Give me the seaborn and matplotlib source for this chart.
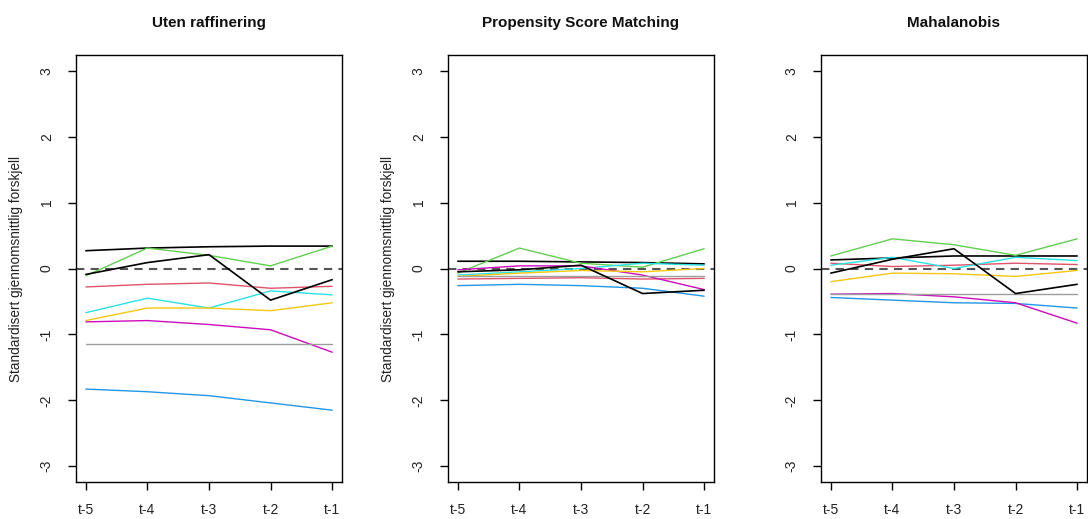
import numpy as np
import pandas as pd
import matplotlib
matplotlib.use("Agg")
import matplotlib.pyplot as plt
import seaborn as sns

periods = ["t-5", "t-4", "t-3", "t-2", "t-1"]
series = ["V1", "V2", "V3", "V4", "V5", "V6", "V7", "V8", "V9"]
colors = ["#000000", "#DF536B", "#61D04F", "#2297E6", "#28E2E5",
          "#CD0BBC", "#F5C710", "#9E9E9E", "#000000"]
titles = ["Uten raffinering", "Propensity Score Matching", "Mahalanobis"]

# Panel 1: Uten raffinering
raw_V1 = [0.27, 0.31, 0.33, 0.34, 0.34]
raw_V2 = [-0.28, -0.24, -0.22, -0.30, -0.27]
raw_V3 = [-0.11, 0.31, 0.20, 0.04, 0.34]
raw_V4 = [-1.83, -1.87, -1.93, -2.04, -2.15]
raw_V5 = [-0.67, -0.45, -0.60, -0.34, -0.40]
raw_V6 = [-0.81, -0.79, -0.85, -0.93, -1.27]
raw_V7 = [-0.79, -0.60, -0.60, -0.64, -0.52]
raw_V8 = [-1.14, -1.14, -1.14, -1.14, -1.14]
raw_V9 = [-0.09, 0.09, 0.21, -0.48, -0.17]

# Panel 2: Propensity Score Matching
psm_V1 = [0.11, 0.11, 0.10, 0.09, 0.07]
psm_V2 = [-0.16, -0.15, -0.14, -0.16, -0.15]
psm_V3 = [-0.07, 0.31, 0.08, 0.02, 0.30]
psm_V4 = [-0.26, -0.24, -0.26, -0.30, -0.42]
psm_V5 = [-0.10, -0.05, 0.00, 0.08, 0.05]
psm_V6 = [-0.02, 0.04, 0.04, -0.10, -0.32]
psm_V7 = [-0.12, -0.07, -0.03, -0.05, 0.00]
psm_V8 = [-0.12, -0.12, -0.12, -0.12, -0.12]
psm_V9 = [-0.05, -0.02, 0.05, -0.38, -0.33]

# Panel 3: Mahalanobis
mah_V1 = [0.13, 0.16, 0.19, 0.19, 0.19]
mah_V2 = [0.08, 0.03, 0.05, 0.08, 0.06]
mah_V3 = [0.19, 0.45, 0.36, 0.20, 0.45]
mah_V4 = [-0.44, -0.48, -0.52, -0.53, -0.60]
mah_V5 = [0.05, 0.17, 0.00, 0.17, 0.12]
mah_V6 = [-0.39, -0.38, -0.43, -0.52, -0.83]
mah_V7 = [-0.20, -0.07, -0.08, -0.12, -0.03]
mah_V8 = [-0.38, -0.38, -0.38, -0.38, -0.38]
mah_V9 = [-0.07, 0.14, 0.30, -0.38, -0.24]

panels = [
    [raw_V1, raw_V2, raw_V3, raw_V4, raw_V5, raw_V6, raw_V7, raw_V8, raw_V9],
    [psm_V1, psm_V2, psm_V3, psm_V4, psm_V5, psm_V6, psm_V7, psm_V8, psm_V9],
    [mah_V1, mah_V2, mah_V3, mah_V4, mah_V5, mah_V6, mah_V7, mah_V8, mah_V9],
]

sns.set_theme(style="white")
plt.rcParams["font.family"] = ["Liberation Sans", "DejaVu Sans"]

fig = plt.figure(figsize=(10.88, 5.19), dpi=100)
lefts = [76 / 1088, 448 / 1088, 821 / 1088]
bottom = 1 - 482 / 519
height = (482 - 55) / 519
width = 266 / 1088

for i, (vals, title) in enumerate(zip(panels, titles)):
    ax = fig.add_axes([lefts[i], bottom, width, height])
    rows = []
    for name, v in zip(series, vals):
        for j, p in enumerate(periods):
            rows.append({"series": name, "x": j + 1, "value": v[j]})
    df = pd.DataFrame(rows)
    pal = dict(zip(series, colors))
    sns.lineplot(data=df, x="x", y="value", hue="series", palette=pal,
                 legend=False, ax=ax, linewidth=1.0, estimator=None,
                 sort=False)
    for ln, name in zip(ax.get_lines(), series):
        if name in ("V1", "V9"):
            ln.set_linewidth(1.2)
    ax.axhline(0, color="#555555", linestyle=(0, (4, 3)), linewidth=1.5,
               zorder=0.5)
    ax.set_xlim(0.84, 5.16)
    ax.set_ylim(-3.24, 3.24)
    ax.set_xticks(range(1, 6))
    ax.set_xticklabels(periods)
    ax.set_yticks([-3, -2, -1, 0, 1, 2, 3])
    ax.set_yticklabels(["-3", "-2", "-1", "0", "1", "2", "3"], rotation=90,
                       va="center")
    ax.tick_params(axis="both", direction="out", length=6, width=1,
                   color="black", labelsize=10, labelcolor="#222222",
                   bottom=True, left=True)
    ax.tick_params(axis="y", pad=10)
    ax.tick_params(axis="x", pad=9)
    for s in ax.spines.values():
        s.set_visible(True)
        s.set_color("black")
        s.set_linewidth(1.0)
    ax.set_xlabel("")
    if i < 2:
        ax.set_ylabel("Standardisert gjennomsnittlig forskjell", fontsize=9.8,
                      color="#222222", labelpad=12)
    else:
        ax.set_ylabel("")
    ax.set_title(title, fontsize=11, fontweight="bold", pad=20,
                 color="#111111")

fig.savefig("out.png", dpi=100)
